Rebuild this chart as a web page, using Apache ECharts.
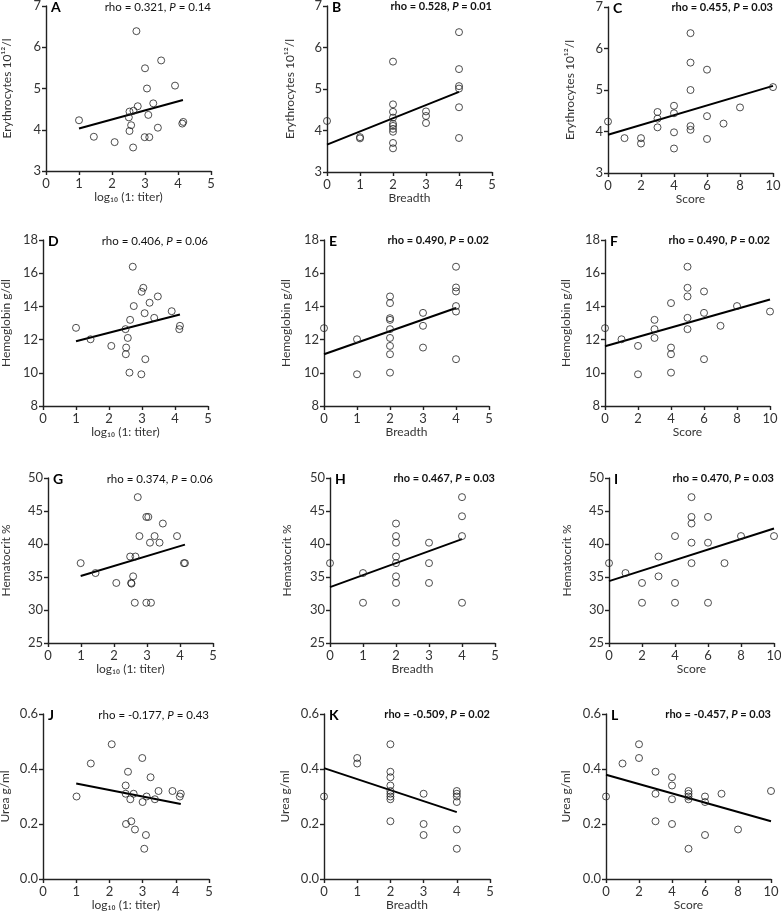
<!DOCTYPE html>
<html>
<head>
<meta charset="utf-8">
<script src="https://cdn.jsdelivr.net/npm/echarts@6/dist/echarts.min.js"></script>
<style>
html,body{margin:0;padding:0;background:#fff;}
#chart{width:781px;height:912px;}
</style>
</head>
<body>
<div id="chart"></div>
<script>
// ---------- data ----------
const panelA = [[1.0,4.23],[1.45,3.83],[2.08,3.70],[2.51,4.30],[2.53,4.44],[2.53,3.97],[2.58,4.11],[2.65,4.46],[2.64,3.57],[2.74,6.39],[2.78,4.57],[3.0,5.49],[3.06,5.0],[2.99,3.82],[3.13,3.82],[3.10,4.36],[3.25,4.64],[3.39,4.05],[3.49,5.68],[3.91,5.07],[4.13,4.15],[4.16,4.19]];
const fitA = [[1.0,4.03],[4.15,4.72]];
const panelB = [[0,4.23],[1,3.84],[1,3.81],[2,5.66],[2,4.63],[2,4.45],[2,4.31],[2,4.16],[2,4.11],[2,4.04],[2,3.97],[2,3.70],[2,3.57],[3,4.46],[3,4.35],[3,4.18],[4,6.37],[4,5.48],[4,5.07],[4,5.01],[4,4.56],[4,3.82]];
const fitB = [[0,3.66],[4,4.93]];
const panelC = [[0,4.24],[1,3.84],[2,3.84],[2,3.71],[3,4.47],[3,4.31],[3,4.10],[4,4.62],[4,4.44],[4,3.98],[4,3.59],[5,6.37],[5,5.66],[5,5.0],[5,4.13],[5,4.04],[6,5.49],[6,4.37],[6,3.82],[7,4.19],[8,4.58],[10,5.07]];
const fitC = [[0,3.92],[10,5.10]];
const panelD = [[1.0,12.71],[1.44,12.02],[2.07,11.62],[2.5,12.63],[2.52,11.52],[2.51,11.12],[2.57,12.10],[2.64,13.19],[2.62,10.01],[2.72,16.39],[2.75,14.02],[2.99,14.88],[3.04,15.12],[2.98,9.91],[3.08,13.59],[3.10,10.82],[3.23,14.22],[3.37,13.31],[3.48,14.60],[3.90,13.71],[4.13,12.63],[4.15,12.83]];
const fitD = [[1.0,11.90],[4.15,13.51]];
const panelE = [[0,12.69],[1,12.02],[1,9.91],[2,14.60],[2,14.20],[2,13.29],[2,13.19],[2,12.63],[2,12.10],[2,11.62],[2,11.12],[2,10.01],[3,13.61],[3,12.83],[3,11.52],[4,16.39],[4,15.14],[4,14.90],[4,14.02],[4,13.69],[4,10.82]];
const fitE = [[0,11.12],[4,13.90]];
const panelF = [[0,12.69],[1,12.02],[2,11.62],[2,9.91],[3,13.19],[3,12.63],[3,12.10],[4,14.20],[4,11.52],[4,11.12],[4,10.01],[5,16.39],[5,15.12],[5,14.60],[5,13.31],[5,12.63],[6,14.90],[6,13.61],[6,10.82],[7,12.83],[8,14.02],[10,13.69]];
const fitF = [[0,11.60],[10,14.42]];
const panelG = [[0.99,37.1],[1.44,35.6],[2.07,34.1],[2.49,38.1],[2.52,34.1],[2.53,34.0],[2.58,35.1],[2.63,31.1],[2.65,38.1],[2.72,47.1],[2.77,41.2],[2.98,44.1],[3.04,44.1],[2.98,31.1],[3.12,31.1],[3.09,40.2],[3.23,41.2],[3.38,40.2],[3.48,43.1],[3.91,41.2],[4.12,37.1],[4.15,37.1]];
const fitG = [[0.99,35.15],[4.15,39.9]];
const panelH = [[0,37.1],[1,35.6],[1,31.1],[2,43.1],[2,41.2],[2,40.2],[2,38.1],[2,37.1],[2,35.1],[2,34.1],[2,31.1],[3,40.2],[3,37.1],[3,34.1],[4,47.1],[4,44.2],[4,41.2],[4,31.1]];
const fitH = [[0,33.47],[4,40.73]];
const panelI = [[0,37.1],[1,35.6],[2,34.1],[2,31.1],[3,38.1],[3,35.1],[4,41.2],[4,34.1],[4,31.1],[5,47.1],[5,44.1],[5,43.1],[5,40.2],[5,37.1],[6,44.1],[6,40.2],[6,31.1],[7,37.1],[8,41.2],[10,41.2]];
const fitI = [[0,34.37],[10,42.34]];
const panelJ = [[1.01,0.30],[1.44,0.42],[2.07,0.49],[2.49,0.34],[2.49,0.31],[2.5,0.20],[2.56,0.39],[2.63,0.29],[2.66,0.21],[2.73,0.31],[2.77,0.18],[2.99,0.44],[3.0,0.28],[3.05,0.11],[3.1,0.16],[3.12,0.30],[3.24,0.37],[3.37,0.29],[3.48,0.32],[3.9,0.32],[4.12,0.30],[4.15,0.31]];
const fitJ = [[1.0,0.347],[4.15,0.273]];
const panelK = [[0,0.30],[1,0.44],[1,0.42],[2,0.49],[2,0.39],[2,0.37],[2,0.34],[2,0.32],[2,0.31],[2,0.30],[2,0.29],[2,0.21],[3,0.31],[3,0.20],[3,0.16],[4,0.32],[4,0.31],[4,0.30],[4,0.28],[4,0.18],[4,0.11]];
const fitK = [[0,0.403],[4,0.243]];
const panelL = [[0,0.30],[1,0.42],[2,0.49],[2,0.44],[3,0.39],[3,0.31],[3,0.21],[4,0.37],[4,0.34],[4,0.29],[4,0.20],[5,0.32],[5,0.31],[5,0.30],[5,0.29],[5,0.11],[6,0.30],[6,0.28],[6,0.16],[7,0.31],[8,0.18],[10,0.32]];
const fitL = [[0,0.379],[10,0.21]];

const panelLetters = ['A','B','C','D','E','F','G','H','I','J','K','L'];
const rhoValues = ['0.321','0.528','0.455','0.406','0.490','0.490','0.374','0.467','0.470','-0.177','-0.509','-0.457'];
const pValues = ['0.14','0.01','0.03','0.06','0.02','0.02','0.06','0.03','0.03','0.43','0.02','0.03'];
const xTitles = ['log₁₀ (1: titer)','Breadth','Score'];
const yTitles = ['Erythrocytes 10¹²/l','Hemoglobin g/dl','Hematocrit %','Urea g/ml'];
const xTicks = [{min:0,max:5,interval:1},{min:0,max:5,interval:1},{min:0,max:10,interval:2}];
const yTicks = [{min:3,max:7,interval:1},{min:8,max:18,interval:2},{min:25,max:50,interval:5},{min:0,max:0.6,interval:0.2}];

// ---------- layout ----------
const FONT = 'Lato, "Open Sans", sans-serif';
const scatterData = [panelA,panelB,panelC,panelD,panelE,panelF,panelG,panelH,panelI,panelJ,panelK,panelL];
const fitData = [fitA,fitB,fitC,fitD,fitE,fitF,fitG,fitH,fitI,fitJ,fitK,fitL];
const gridBoxes = [
  [46,6,165,165],[327,6,165,166],[608,7,165,166],
  [43,240,165,166],[324,240,165,166],[605,240,165,166],
  [48,478,165,165],[330,478,165,165],[609,478,165,165],
  [43,714,166,165],[324,714,166,165],[606,714,165,165]
];
const yNameGaps = [33,31,32, 31,32,33, 36,37,36, 32,33,34];
const boldStats = [false,true,true,false,true,true,false,true,true,false,true,true];
const AX = '#222';

const grids = [], xAxes = [], yAxes = [], series = [], graphics = [];
gridBoxes.forEach((g,i) => {
  const col = i % 3, row = Math.floor(i / 3);
  grids.push({left:g[0], top:g[1], width:g[2], height:g[3], containLabel:false, outerBoundsMode:'none'});
  xAxes.push({
    gridIndex:i, type:'value', min:xTicks[col].min, max:xTicks[col].max, interval:xTicks[col].interval,
    name:xTitles[col], nameLocation:'middle', nameGap:20,
    nameTextStyle:{fontFamily:FONT, fontSize:12, color:'#333'},
    axisLine:{show:true, onZero:false, lineStyle:{color:AX, width:1.4}},
    axisTick:{show:true, length:4, lineStyle:{color:AX, width:1.4}},
    axisLabel:{fontFamily:FONT, fontSize:13, color:'#333', margin:6},
    splitLine:{show:false}
  });
  yAxes.push({
    gridIndex:i, type:'value', min:yTicks[row].min, max:yTicks[row].max, interval:yTicks[row].interval,
    name:yTitles[row], nameLocation:'middle', nameGap:yNameGaps[i], nameRotate:90,
    nameTextStyle:{fontFamily:FONT, fontSize:12, color:'#333'},
    axisLine:{show:true, onZero:false, lineStyle:{color:AX, width:1.4}},
    axisTick:{show:true, length:4, lineStyle:{color:AX, width:1.4}},
    axisLabel:{fontFamily:FONT, fontSize:13, color:'#333', margin:5,
      formatter: row === 3 ? (v => v.toFixed(1)) : (v => String(v))},
    splitLine:{show:false}
  });
  series.push({
    type:'line', xAxisIndex:i, yAxisIndex:i, data:fitData[i], showSymbol:false, symbol:'none',
    lineStyle:{color:'#000', width:2}, z:2, silent:true
  });
  series.push({
    type:'scatter', xAxisIndex:i, yAxisIndex:i, data:scatterData[i], symbol:'circle', symbolSize:7,
    itemStyle:{color:'rgba(255,255,255,0)', borderColor:'#222', borderWidth:1}, z:3
  });
  // panel letter
  graphics.push({
    type:'text', x:g[0]+5, y:g[1]-6,
    style:{text:panelLetters[i], font:'bold 14px ' + FONT, fill:'#000', align:'left', verticalAlign:'top'}
  });
  // statistics text
  const bold = boldStats[i];
  const w = bold ? 'bold ' : '';
  const fs = bold ? '11px ' : '11.5px ';
  graphics.push({
    type:'text', x:g[0]+g[2], y:g[1]-5,
    style:{
      text:'{n|rho = ' + rhoValues[i] + ', }{i|P}{n| = ' + pValues[i] + '}',
      align:'right', verticalAlign:'top',
      rich:{
        n:{font: w + fs + FONT, fill:'#111'},
        i:{font: 'italic ' + w + fs + FONT, fill:'#111'}
      }
    }
  });
});

const chart = echarts.init(document.getElementById('chart'), null, {renderer:'canvas'});
chart.setOption({
  animation:false,
  backgroundColor:'#fff',
  grid:grids, xAxis:xAxes, yAxis:yAxes, series:series, graphic:graphics
});
</script>
</body>
</html>
